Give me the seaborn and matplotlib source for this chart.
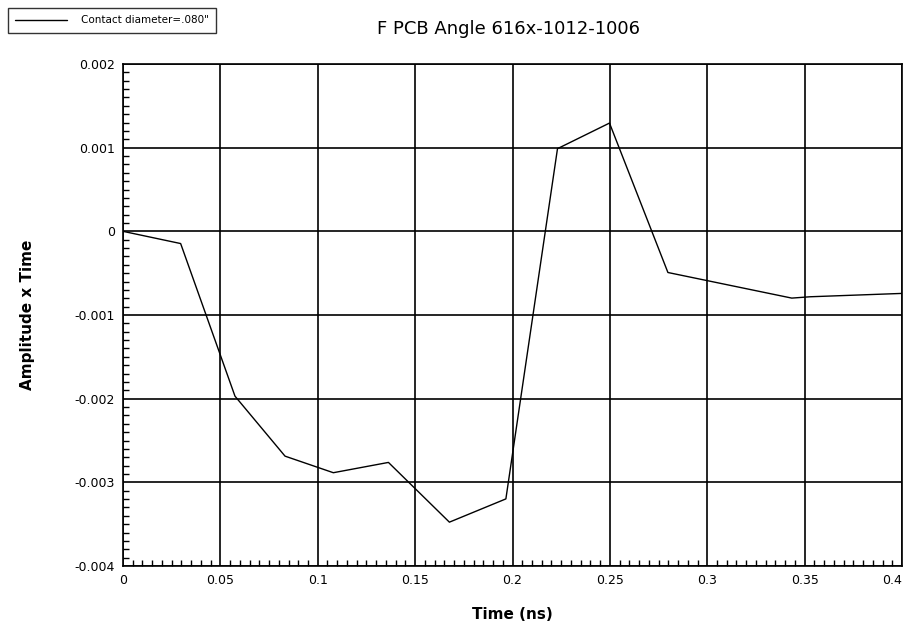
import matplotlib
matplotlib.use("Agg")
import matplotlib.pyplot as plt
import seaborn as sns
import pandas as pd
from matplotlib.ticker import MultipleLocator, FixedLocator
from matplotlib.lines import Line2D

sns.set_theme(style="white")
plt.rcParams['font.family'] = ['DejaVu Sans']
plt.rcParams['text.color'] = 'black'
plt.rcParams['axes.labelcolor'] = 'black'

time_ns = [0.0, 0.0296, 0.0575, 0.0832, 0.108, 0.1363, 0.1676, 0.1966,
           0.2231, 0.2498, 0.2798, 0.3434, 0.3529, 0.4]
amp_time = [0.0, -0.000146, -0.00197, -0.002687, -0.002885, -0.002762,
            -0.003476, -0.003198, 0.000988, 0.001294, -0.000492, -0.000798,
            -0.000782, -0.000742]
series_label = 'Contact diameter=.080"'
x_ticks = [0, 0.05, 0.1, 0.15, 0.2, 0.25, 0.3, 0.35, 0.4]
x_tick_labels = ["0", "0.05", "0.1", "0.15", "0.2", "0.25", "0.3", "0.35", "0.4"]
y_ticks = [-0.004, -0.003, -0.002, -0.001, 0, 0.001, 0.002]
y_tick_labels = ["-0.004", "-0.003", "-0.002", "-0.001", "0", "0.001", "0.002"]

df = pd.DataFrame({"Time (ns)": time_ns, "Amplitude x Time": amp_time,
                   "series": series_label})

fig = plt.figure(figsize=(9.04, 6.33), dpi=100)
ax = fig.add_axes([123/904, 1-566/633, (902-123)/904, (566-64)/633])

sns.lineplot(data=df, x="Time (ns)", y="Amplitude x Time", hue="series",
             palette=["black"], linewidth=1.0, ax=ax, legend=False, sort=False)

ax.set_xlim(0, 0.4)
ax.set_ylim(-0.004, 0.002)
ax.xaxis.set_major_locator(FixedLocator(x_ticks))
ax.set_xticklabels(x_tick_labels)
ax.yaxis.set_major_locator(FixedLocator(y_ticks))
ax.set_yticklabels(y_tick_labels)
ax.xaxis.set_minor_locator(MultipleLocator(0.005))
ax.yaxis.set_minor_locator(MultipleLocator(0.0001))
ax.grid(True, which='major', color='black', linewidth=1.2)
ax.tick_params(which='minor', direction='in', length=4, width=1, color='black',
               bottom=True, left=True, top=False, right=False)
ax.tick_params(which='major', length=0, labelsize=9, pad=6, colors='black')
ax.get_xticklabels()[-1].set_horizontalalignment('right')
for s in ax.spines.values():
    s.set_color('black')
    s.set_linewidth(1.2)

ax.set_xlabel("Time (ns)", fontsize=11, fontweight='bold', labelpad=14)
ax.set_ylabel("Amplitude x Time", fontsize=11, fontweight='bold', labelpad=28)
fig.text(509/904, 1-29/633, "F PCB Angle 616x-1012-1006", ha='center',
         va='center', fontsize=13, color='black')

h = [Line2D([0], [0], color='black', linewidth=1.0)]
leg = fig.legend(h, [series_label], loc='upper left',
                 bbox_to_anchor=(8/904, 1-8/633), frameon=True, fontsize=7.5,
                 fancybox=False, edgecolor='black', handlelength=5,
                 borderpad=0.7, handletextpad=1.3, borderaxespad=0)
leg.get_frame().set_linewidth(1.0)

fig.savefig("out.png", dpi=100, facecolor='white')
